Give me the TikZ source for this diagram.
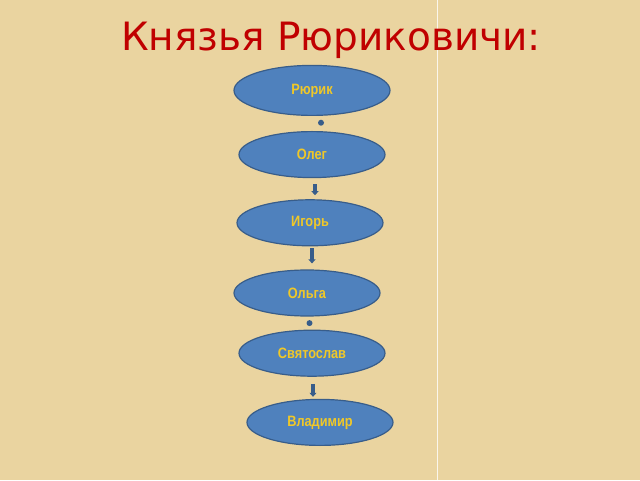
\documentclass[tikz,border=0pt]{standalone}
\usepackage{fontspec}
\setmainfont{DejaVu Sans}
\newfontfamily\namefont[FakeStretch=0.85]{Liberation Sans}
\definecolor{papyrus}{RGB}{234, 212, 160}
\definecolor{princefill}{RGB}{79, 129, 189}
\definecolor{princeline}{RGB}{56, 93, 138}
\definecolor{princetext}{RGB}{240, 200, 40}
\definecolor{titlered}{RGB}{192, 0, 0}
\usetikzlibrary{positioning, shapes.geometric, calc, arrows.meta}

\begin{document}
\begin{tikzpicture}[x=1pt, y=-1pt,
		prince/.style={ellipse, draw=princeline, line width=1.2pt, fill=princefill, minimum height=46pt, minimum width=146pt, inner sep=0pt, font=\namefont\fontsize{15}{17}\bfseries, text=princetext},
		link/.style={draw=princeline, line width=3.5pt, -{Triangle[width=7pt, length=4pt]}},
		knot/.style={fill=princeline}
		]
		
		% background
		\fill[papyrus] (0,0) rectangle (640,480);
		\draw[white, line width=0.8pt, opacity=0.8] (437,0) -- (437,480);
		\useasboundingbox (0,0) rectangle (640,480);
		
		\node[anchor=base, text=titlered, font=\fontsize{39}{43}\selectfont] (title) at (331,50) {Князья Рюриковичи:};
		
		\node[prince, minimum width=156pt, minimum height=50pt] (rurik) at (312,90) {Рюрик};
		\node[prince, below=15pt of rurik] (oleg) {Олег};
		\node[prince, below=21pt of oleg, xshift=-2pt] (igor) {Игорь};
		\node[prince, below=23pt of igor, xshift=-3pt] (olga) {Ольга};
		\node[prince, below=13pt of olga, xshift=5pt] (svyat) {Святослав};
		\node[prince, below=22pt of svyat, xshift=8pt] (vlad) {Владимир};
		
		\fill[knot] ($(rurik.south)!0.45!(oleg.north)+(9,0)$) circle (3pt);
		\draw[link] ($(oleg.south)+(3,6)$) -- ($(igor.north)+(5,-4)$);
		\draw[link] ($(igor.south)+(2,2)$) -- ($(olga.north)+(5,-6)$);
		\fill[knot] ($(olga.south)!0.5!(svyat.north)$) circle (3pt);
		\draw[link] ($(svyat.south)+(1,7)$) -- ($(vlad.north)+(-7,-2)$);
		
	\end{tikzpicture}
\end{document}
